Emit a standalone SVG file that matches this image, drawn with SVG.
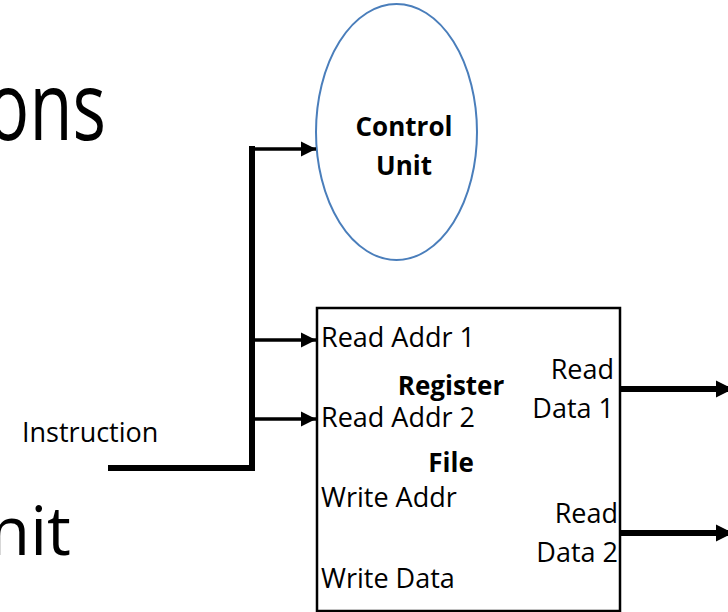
<svg xmlns="http://www.w3.org/2000/svg" width="728" height="612" viewBox="0 0 728 612">
<defs>
<style>
text{font-family:"Open Sans","Noto Sans","Liberation Sans",sans-serif;fill:#000}
.lbl{font-size:27px}
.b{font-weight:bold;font-size:26px}
.big{font-size:95px}
.line{stroke:#000;fill:none}
</style>
<marker id="ah" markerUnits="userSpaceOnUse" markerWidth="16" markerHeight="16" viewBox="0 0 16 16" refX="15" refY="8" orient="auto">
<path d="M0,0.5 L15,8 L0,15.5 Z" fill="#000"/>
</marker>
<marker id="ahb" markerUnits="userSpaceOnUse" markerWidth="18" markerHeight="18" viewBox="0 0 18 18" refX="17" refY="9" orient="auto">
<path d="M0,0.5 L17,9 L0,17.5 Z" fill="#000"/>
</marker>
</defs>
<rect width="728" height="612" fill="#fff"/>
<g id="title-fragments">
<text class="big" transform="translate(106,140) scale(0.74,1)" x="0" y="0" text-anchor="end">ons</text>
<text x="71" y="555" text-anchor="end" style="font-size:67px">nit</text>
</g>
<g id="control-unit">
<ellipse cx="396.5" cy="132" rx="80.5" ry="128" fill="#fff" stroke="#4a7ebb" stroke-width="2"/>
<text class="b" x="404" y="136" text-anchor="middle">Control</text>
<text class="b" x="404" y="175" text-anchor="middle">Unit</text>
</g>
<g id="register-file">
<rect x="317" y="308" width="303" height="303" fill="#fff" stroke="#000" stroke-width="2.5"/>
<text class="b" x="451" y="395" text-anchor="middle">Register</text>
<text class="b" x="451" y="472" text-anchor="middle">File</text>
<text class="lbl" x="321" y="347">Read Addr 1</text>
<text class="lbl" x="321" y="427">Read Addr 2</text>
<text class="lbl" x="321" y="507">Write Addr</text>
<text class="lbl" x="321" y="588">Write Data</text>
<text class="lbl" x="614" y="379" text-anchor="end">Read</text>
<text class="lbl" x="614" y="418" text-anchor="end">Data 1</text>
<text class="lbl" x="618" y="523" text-anchor="end">Read</text>
<text class="lbl" x="618" y="562" text-anchor="end">Data 2</text>
</g>
<g id="instruction-label">
<text class="lbl" x="22" y="442">Instruction</text>
</g>
<g id="connectors">
<path class="line" d="M108,468 H252 V146" stroke-width="6"/>
<path class="line" d="M252,149 H316" stroke-width="3.5" marker-end="url(#ah)"/>
<path class="line" d="M252,340 H316" stroke-width="3.5" marker-end="url(#ah)"/>
<path class="line" d="M252,419 H316" stroke-width="3.5" marker-end="url(#ah)"/>
<path class="line" d="M621,389 H733" stroke-width="6" marker-end="url(#ahb)"/>
<path class="line" d="M621,533 H733" stroke-width="6" marker-end="url(#ahb)"/>
</g>
</svg>
